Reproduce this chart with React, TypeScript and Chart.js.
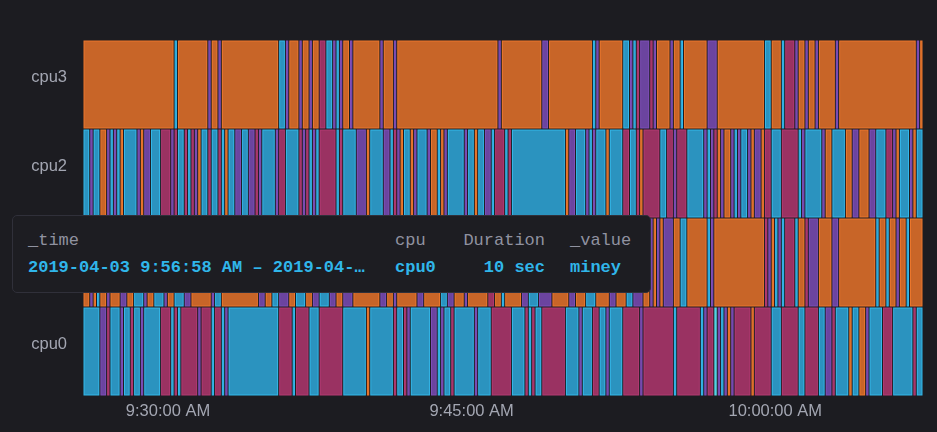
import React, { useEffect, useRef } from 'react';
import { Chart, registerables } from 'chart.js';

Chart.register(...registerables);

// ---- data ----
const rows = ['cpu3', 'cpu2', 'cpu1', 'cpu0'];
const startTime = '9:25:48';
const stepSeconds = 10;
const xTickTimes = ['9:30:00', '9:45:00', '10:00:00'];
const hoveredRow = 'cpu0';
const hoveredTime = '9:56:58';

type Run = [string, number]; // [value, number of 10-second steps]

const cpu3Runs: Run[] = [
  ['moe', 27], ['miney', 1], ['moe', 9], ['eeny', 1], ['moe', 2], ['eeny', 1], ['moe', 17],
  ['miney', 2], ['eeny', 1], ['moe', 3], ['eeny', 1], ['moe', 2], ['eeny', 1], ['moe', 2],
  ['meeny', 2], ['miney', 2], ['eeny', 1], ['miney', 1], ['eeny', 1], ['moe', 2], ['eeny', 1],
  ['moe', 8], ['eeny', 1], ['moe', 3], ['eeny', 1], ['moe', 30], ['eeny', 1], ['moe', 12],
  ['eeny', 2], ['moe', 13], ['miney', 1], ['eeny', 1], ['moe', 7], ['miney', 2], ['eeny', 1],
  ['miney', 1], ['meeny', 1], ['eeny', 3], ['meeny', 1], ['eeny', 1], ['moe', 4], ['eeny', 1],
  ['moe', 2], ['miney', 1], ['moe', 7], ['eeny', 3], ['moe', 14], ['miney', 2], ['moe', 3],
  ['miney', 1], ['meeny', 3], ['eeny', 1], ['moe', 2], ['eeny', 1], ['moe', 2], ['eeny', 1],
  ['moe', 5], ['eeny', 1], ['moe', 23], ['eeny', 1], ['moe', 1],
];

const cpu2Runs: Run[] = [
  ['miney', 2], ['eeny', 1], ['miney', 2], ['moe', 2], ['eeny', 1], ['miney', 1], ['eeny', 1],
  ['miney', 1], ['moe', 1], ['miney', 4], ['eeny', 1], ['moe', 1], ['eeny', 2], ['miney', 3],
  ['meeny', 3], ['eeny', 1], ['meeny', 1], ['miney', 2], ['meeny', 1], ['miney', 1], ['meeny', 1],
  ['eeny', 1], ['moe', 1], ['miney', 2], ['meeny', 1], ['miney', 2], ['meeny', 1], ['miney', 1],
  ['moe', 1], ['miney', 2], ['eeny', 2], ['miney', 2], ['eeny', 2], ['meeny', 1], ['eeny', 1],
  ['miney', 4], ['eeny', 1], ['meeny', 2], ['miney', 4], ['meeny', 1], ['eeny', 1], ['meeny', 1],
  ['miney', 1], ['eeny', 1], ['miney', 1], ['meeny', 5], ['miney', 1], ['meeny', 1], ['miney', 4],
  ['eeny', 3], ['moe', 1],
  ['miney', 4], ['eeny', 2], ['miney', 1], ['meeny', 1], ['eeny', 1], ['moe', 1], ['miney', 2],
  ['moe', 1], ['eeny', 1], ['miney', 3], ['eeny', 1], ['moe', 2], ['miney', 1], ['moe', 1],
  ['eeny', 1], ['miney', 5], ['eeny', 1], ['miney', 2], ['moe', 1], ['miney', 2], ['eeny', 2],
  ['miney', 1], ['meeny', 3], ['miney', 1], ['meeny', 1], ['miney', 16], ['moe', 1], ['eeny', 2],
  ['miney', 3], ['eeny', 1], ['miney', 1], ['eeny', 1], ['miney', 3], ['moe', 1], ['miney', 4],
  ['meeny', 2], ['miney', 2], ['meeny', 1], ['moe', 1], ['meeny', 5],
  ['miney', 2], ['meeny', 2], ['eeny', 1], ['meeny', 3], ['miney', 5], ['eeny', 1], ['miney', 1],
  ['eeny', 1], ['meeny', 1], ['moe', 1], ['eeny', 1], ['moe', 2], ['eeny', 1], ['miney', 1],
  ['eeny', 1], ['miney', 2], ['eeny', 1], ['moe', 1], ['eeny', 2], ['moe', 1], ['meeny', 2],
  ['miney', 3], ['meeny', 5], ['miney', 1], ['eeny', 1], ['miney', 5], ['eeny', 1], ['moe', 2],
  ['miney', 4], ['moe', 2], ['eeny', 2], ['moe', 3], ['eeny', 2], ['miney', 3], ['meeny', 2],
  ['eeny', 1], ['moe', 1], ['miney', 3], ['eeny', 1], ['moe', 1], ['miney', 2],
];

const cpu1Runs: Run[] = [
  ['moe', 2], ['eeny', 1], ['moe', 1], ['miney', 1], ['moe', 2], ['eeny', 1], ['moe', 3],
  ['eeny', 2], ['moe', 2], ['miney', 3], ['eeny', 1], ['moe', 2], ['miney', 3], ['eeny', 1],
  ['moe', 2], ['miney', 3], ['eeny', 2], ['moe', 6], ['eeny', 1], ['miney', 2], ['moe', 11],
  ['eeny', 2], ['moe', 2], ['miney', 2], ['eeny', 3], ['moe', 2], ['miney', 3], ['moe', 2],
  ['eeny', 2], ['miney', 3], ['eeny', 2], ['moe', 2], ['eeny', 3], ['moe', 8], ['eeny', 2],
  ['moe', 2], ['eeny', 1], ['moe', 6], ['eeny', 2], ['moe', 5], ['miney', 2], ['eeny', 2],
  ['moe', 3], ['eeny', 1], ['moe', 6], ['meeny', 2], ['moe', 2], ['miney', 1], ['moe', 5],
  ['eeny', 2], ['miney', 3], ['eeny', 4], ['moe', 5], ['eeny', 2], ['moe', 3], ['miney', 3],
  ['moe', 4], ['eeny', 2], ['moe', 3], ['miney', 2], ['eeny', 3], ['moe', 2],
  ['eeny', 1], ['moe', 1], ['eeny', 1], ['moe', 1], ['eeny', 3], ['moe', 2], ['miney', 2],
  ['moe', 6], ['miney', 1], ['eeny', 1], ['moe', 15], ['meeny', 1], ['eeny', 1], ['moe', 1],
  ['miney', 1], ['eeny', 1], ['miney', 1], ['meeny', 3], ['miney', 1], ['moe', 2], ['meeny', 1],
  ['eeny', 3], ['moe', 4], ['eeny', 2], ['moe', 11], ['miney', 1], ['moe', 2], ['miney', 1],
  ['moe', 2], ['eeny', 1], ['moe', 2], ['miney', 1], ['moe', 4],
];

const cpu0Runs: Run[] = [
  ['miney', 5], ['eeny', 2], ['meeny', 1], ['miney', 3], ['eeny', 1], ['miney', 2], ['meeny', 1],
  ['miney', 2], ['eeny', 1], ['miney', 5], ['meeny', 3], ['miney', 1], ['meeny', 1], ['miney', 1],
  ['meeny', 5], ['eeny', 1], ['meeny', 3], ['miney', 1], ['meeny', 2], ['miney', 1], ['eeny', 1],
  ['miney', 15], ['meeny', 4], ['miney', 1], ['meeny', 4], ['miney', 3], ['meeny', 7], ['miney', 7],
  ['moe', 1], ['miney', 7], ['meeny', 1], ['miney', 2], ['meeny', 1], ['eeny', 1], ['miney', 6],
  ['eeny', 2], ['miney', 1], ['eeny', 1], ['miney', 2], ['meeny', 1], ['miney', 6], ['eeny', 1],
  ['miney', 4], ['meeny', 6], ['miney', 4], ['meeny', 1], ['miney', 1], ['meeny', 1], ['miney', 2],
  ['meeny', 7], ['miney', 4], ['eeny', 1], ['miney', 3], ['meeny', 2], ['miney', 2], ['eeny', 1],
  ['miney', 4], ['meeny', 5], ['eeny', 1], ['meeny', 9], ['miney', 1], ['meeny', 7], ['miney', 1],
  ['eeny', 1], ['meeny', 2], ['miney', 1], ['eeny', 1], ['miney', 1], ['eeny', 1], ['moe', 1],
  ['eeny', 1], ['meeny', 5], ['moe', 1], ['meeny', 5], ['miney', 3], ['meeny', 5], ['miney', 2],
  ['meeny', 4], ['miney', 2], ['eeny', 2], ['meeny', 1], ['miney', 4], ['moe', 1], ['miney', 2],
  ['moe', 2], ['eeny', 1], ['miney', 4], ['meeny', 3], ['miney', 6], ['meeny', 1], ['miney', 2],
];

const tooltipHeaders = ['_time', 'cpu', 'Duration', '_value'];
const tooltipValues = ['2019-04-03 9:56:58 AM \u2013 2019-04-\u2026', 'cpu0', '10 sec', 'miney'];

// ---- styles ----
const fillColors: Record<string, string> = {
  moe: '#c86528',
  miney: '#2b93bf',
  meeny: '#9a3262',
  eeny: '#6b449f',
};
const edgeColors: Record<string, string> = {
  moe: '#ec772c',
  miney: '#33b8ea',
  meeny: '#b23a72',
  eeny: '#7e4eb8',
};
const hoverFill = '#3ec6dc';
const hoverEdge = '#5adcec';
const bg = '#1c1c21';
const axisText = '#a3a6b2';

function toSec(t: string) {
  const [h, m, s] = t.split(':').map(Number);
  return h * 3600 + m * 60 + s;
}

function fmtTime(sec: number) {
  const h = Math.floor(sec / 3600);
  const m = Math.floor((sec % 3600) / 60);
  const s = Math.round(sec % 60);
  const ampm = h >= 12 ? 'PM' : 'AM';
  const h12 = h % 12 === 0 ? 12 : h % 12;
  return `${h12}:${String(m).padStart(2, '0')}:${String(s).padStart(2, '0')} ${ampm}`;
}

const runsByRow: Record<string, Run[]> = { cpu3: cpu3Runs, cpu2: cpu2Runs, cpu1: cpu1Runs, cpu0: cpu0Runs };

function buildSegments() {
  const out: { x: [number, number]; y: string; state: string; hover: boolean }[] = [];
  const hv = toSec(hoveredTime);
  rows.forEach((row) => {
    let t = toSec(startTime);
    for (const [state, n] of runsByRow[row]) {
      out.push({ x: [t, t + n * stepSeconds], y: row, state, hover: row === hoveredRow && t === hv });
      t += n * stepSeconds;
    }
  });
  return out;
}

export default function App() {
  const ref = useRef<HTMLCanvasElement | null>(null);

  useEffect(() => {
    if (!ref.current) return;
    const segs = buildSegments();
    const minX = toSec(startTime);
    const maxX = Math.max(...segs.map((s) => s.x[1]));
    const tickFont = { family: '"Liberation Sans", Arial, sans-serif', size: 16.5 };
    const chart = new Chart(ref.current, {
      type: 'bar',
      data: {
        labels: rows,
        datasets: [
          {
            label: 'edge',
            data: segs.map((s) => ({ ...s })) as any,
            backgroundColor: (c: any) => (c.raw && c.raw.hover ? hoverEdge : edgeColors[c.raw?.state] || '#888'),
            borderWidth: 0,
            inflateAmount: -0.5,
            grouped: false,
            barPercentage: 1,
            categoryPercentage: 1,
            order: 2,
          } as any,
          {
            label: 'fill',
            data: segs.map((s) => ({ ...s })) as any,
            backgroundColor: (c: any) => (c.raw && c.raw.hover ? hoverFill : fillColors[c.raw?.state] || '#888'),
            borderWidth: 0,
            inflateAmount: -1.5,
            grouped: false,
            barPercentage: 1,
            categoryPercentage: 1,
            order: 1,
          } as any,
        ],
      },
      options: {
        indexAxis: 'y',
        responsive: false,
        animation: false,
        devicePixelRatio: 1,
        events: [],
        layout: { padding: { top: 40, right: 14, bottom: 0, left: 0 } },
        plugins: { legend: { display: false }, tooltip: { enabled: false } },
        scales: {
          x: {
            type: 'linear',
            min: minX,
            max: maxX,
            grid: { display: false, drawTicks: false },
            border: { display: false },
            afterFit: (s: any) => {
              s.height = 36;
            },
            afterBuildTicks: (s: any) => {
              s.ticks = xTickTimes.map((t) => ({ value: toSec(t) }));
            },
            ticks: {
              padding: 6,
              color: axisText,
              font: tickFont,
              autoSkip: false,
              maxRotation: 0,
              callback: (v: any) => fmtTime(Number(v)),
            },
          },
          y: {
            type: 'category',
            grid: { display: false, drawTicks: false },
            border: { display: false },
            afterFit: (s: any) => {
              s.width = 83;
            },
            ticks: {
              padding: 16,
              labelOffset: -7,
              color: axisText,
              font: tickFont,
            },
          },
        },
      } as any,
    });
    return () => chart.destroy();
  }, []);

  const mono = '"Liberation Mono", "DejaVu Sans Mono", monospace';
  const headStyle: React.CSSProperties = {
    position: 'absolute',
    font: `17px ${mono}`,
    lineHeight: '20px',
    color: '#9092a0',
    whiteSpace: 'nowrap',
  };
  const valStyle: React.CSSProperties = { ...headStyle, color: '#30b6ea', fontWeight: 'bold' };

  return (
    <div style={{ position: 'fixed', left: 0, top: 0, width: 937, height: 432, background: bg, overflow: 'hidden' }}>
      <canvas ref={ref} width={937} height={432} style={{ display: 'block', width: 937, height: 432 }} />
      <div
        style={{
          position: 'absolute',
          left: 12,
          top: 215,
          width: 639,
          height: 78,
          boxSizing: 'border-box',
          background: '#1d1d22',
          border: '1px solid #30303a',
          borderRadius: 5,
        }}
      />
      <span style={{ ...headStyle, left: 28, top: 231 }}>{tooltipHeaders[0]}</span>
      <span style={{ ...headStyle, left: 395, top: 231 }}>{tooltipHeaders[1]}</span>
      <span style={{ ...headStyle, right: 937 - 545, top: 231, textAlign: 'right' }}>{tooltipHeaders[2]}</span>
      <span style={{ ...headStyle, left: 570, top: 231 }}>{tooltipHeaders[3]}</span>
      <span style={{ ...valStyle, left: 28, top: 258 }}>{tooltipValues[0]}</span>
      <span style={{ ...valStyle, left: 395, top: 258 }}>{tooltipValues[1]}</span>
      <span style={{ ...valStyle, right: 937 - 545, top: 258, textAlign: 'right' }}>{tooltipValues[2]}</span>
      <span style={{ ...valStyle, left: 570, top: 258 }}>{tooltipValues[3]}</span>
    </div>
  );
}
